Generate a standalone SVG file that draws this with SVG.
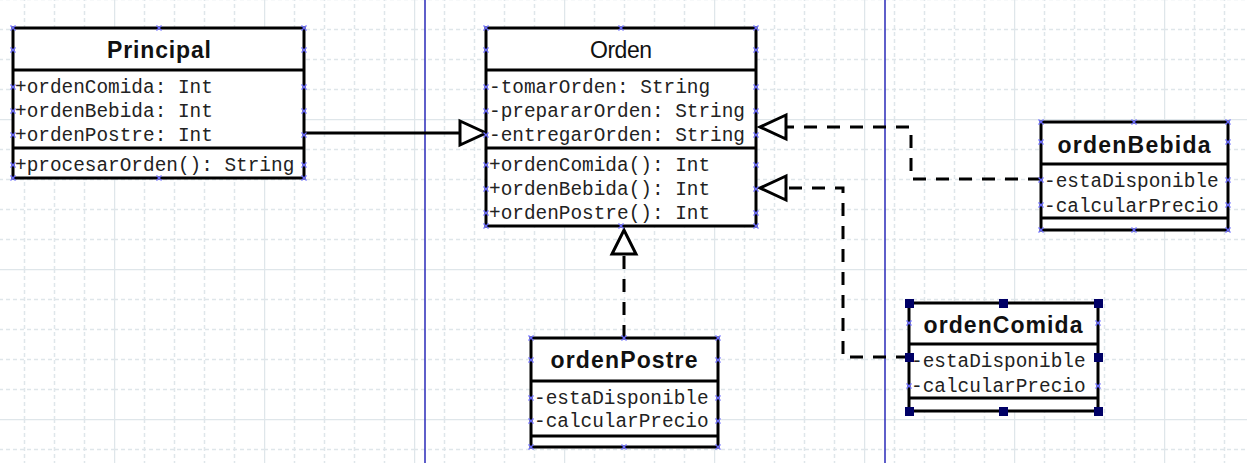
<svg xmlns="http://www.w3.org/2000/svg" width="1247" height="463" viewBox="0 0 1247 463">
<style>
.box{fill:#fff;stroke:#000;stroke-width:3}
.div{stroke:#000;stroke-width:3}
.t{font-family:"Liberation Sans",Arial,sans-serif;font-size:23px;fill:#111;text-anchor:middle}
.b{font-weight:bold}
.m{font-family:"Liberation Mono","Courier New",monospace;font-size:19.4px;fill:#222}
.con{fill:none;stroke:#000;stroke-width:3}
.dash{stroke-dasharray:13,10}
.tri{fill:#fff;stroke:#000;stroke-width:3;stroke-linejoin:miter}
.hd{fill:#000066}
.pg{stroke:#2a2ab8;stroke-width:1.5}
</style>
<defs>
<pattern id="grid" patternUnits="userSpaceOnUse" x="-36" y="-31" width="150" height="150">
<g stroke="#dfe6ea" stroke-width="1.5" fill="none">
<path d="M0.5,0V150M0,0.5H150"/>
<path stroke-dasharray="4,3" d="M30.5,0V150M60.5,0V150M90.5,0V150M120.5,0V150M0,30.5H150M0,60.5H150M0,90.5H150M0,120.5H150"/>
</g>
</pattern>
<path id="xm" d="M-2.5,-2.5L2.5,2.5M-2.5,2.5L2.5,-2.5" stroke="#6a6aff" stroke-width="1.2" fill="none"/>
</defs>
<rect width="1247" height="463" fill="#fff"/>
<rect width="1247" height="463" fill="url(#grid)"/>
<line class="pg" x1="425" y1="0" x2="425" y2="463"/>
<line class="pg" x1="885" y1="0" x2="885" y2="463"/>

<g id="connectors">
<path class="con" d="M305,133H460"/>
<polygon class="tri" points="460,121 486,133 460,145"/>
<path class="con dash" d="M1041,179H911V127H786"/>
<polygon class="tri" points="786,115 760,127 786,139"/>
<path class="con dash" d="M909,357H843V188H786"/>
<polygon class="tri" points="786,176 760,188 786,200"/>
<path class="con dash" d="M624,338V254"/>
<polygon class="tri" points="612,254 624,230 636,254"/>
</g>

<g id="Principal">
<rect class="box" x="13" y="28" width="291" height="150"/>
<line class="div" x1="13" y1="70" x2="304" y2="70"/>
<line class="div" x1="13" y1="148" x2="304" y2="148"/>
<text class="t b" x="159" y="58" textLength="104">Principal</text>
<text class="m" x="15" y="93">+ordenComida: Int</text>
<text class="m" x="15" y="117">+ordenBebida: Int</text>
<text class="m" x="15" y="141">+ordenPostre: Int</text>
<text class="m" x="15" y="171">+procesarOrden(): String</text>
<use href="#xm" x="13" y="28"/><use href="#xm" x="159" y="28"/><use href="#xm" x="304" y="28"/>
<use href="#xm" x="13" y="178"/><use href="#xm" x="159" y="178"/><use href="#xm" x="304" y="178"/>
<use href="#xm" x="13" y="50"/><use href="#xm" x="304" y="50"/>
<use href="#xm" x="13" y="87"/><use href="#xm" x="304" y="87"/>
<use href="#xm" x="13" y="111"/><use href="#xm" x="304" y="111"/>
<use href="#xm" x="13" y="135"/><use href="#xm" x="304" y="135"/>
<use href="#xm" x="13" y="165"/><use href="#xm" x="304" y="165"/>
</g>

<g id="Orden">
<rect class="box" x="486" y="28" width="270" height="198"/>
<line class="div" x1="486" y1="70" x2="756" y2="70"/>
<line class="div" x1="486" y1="148" x2="756" y2="148"/>
<text class="t" x="621" y="58" textLength="62">Orden</text>
<text class="m" x="489" y="93">-tomarOrden: String</text>
<text class="m" x="489" y="117">-prepararOrden: String</text>
<text class="m" x="489" y="141">-entregarOrden: String</text>
<text class="m" x="489" y="171">+ordenComida(): Int</text>
<text class="m" x="489" y="195">+ordenBebida(): Int</text>
<text class="m" x="489" y="219">+ordenPostre(): Int</text>
<use href="#xm" x="486" y="28"/><use href="#xm" x="621" y="28"/><use href="#xm" x="756" y="28"/>
<use href="#xm" x="486" y="226"/><use href="#xm" x="621" y="226"/><use href="#xm" x="756" y="226"/>
<use href="#xm" x="486" y="50"/><use href="#xm" x="756" y="50"/>
<use href="#xm" x="486" y="87"/><use href="#xm" x="756" y="87"/>
<use href="#xm" x="486" y="111"/><use href="#xm" x="756" y="111"/>
<use href="#xm" x="486" y="135"/><use href="#xm" x="756" y="135"/>
<use href="#xm" x="486" y="165"/><use href="#xm" x="756" y="165"/>
<use href="#xm" x="486" y="189"/><use href="#xm" x="756" y="189"/>
<use href="#xm" x="486" y="213"/><use href="#xm" x="756" y="213"/>
</g>

<g id="ordenBebida">
<rect class="box" x="1041" y="122" width="187" height="108"/>
<line class="div" x1="1041" y1="164" x2="1228" y2="164"/>
<line class="div" x1="1041" y1="218" x2="1228" y2="218"/>
<text class="t b" x="1134" y="153" textLength="153">ordenBebida</text>
<text class="m" x="1044" y="187">-estaDisponible</text>
<text class="m" x="1044" y="212">-calcularPrecio</text>
<use href="#xm" x="1041" y="122"/><use href="#xm" x="1134" y="122"/><use href="#xm" x="1228" y="122"/>
<use href="#xm" x="1041" y="230"/><use href="#xm" x="1134" y="230"/><use href="#xm" x="1228" y="230"/>
<use href="#xm" x="1041" y="142"/><use href="#xm" x="1228" y="142"/>
<use href="#xm" x="1041" y="180"/><use href="#xm" x="1228" y="180"/>
<use href="#xm" x="1041" y="205"/><use href="#xm" x="1228" y="205"/>
</g>

<g id="ordenComida">
<rect class="box" x="909" y="303" width="189" height="108"/>
<line class="div" x1="909" y1="344" x2="1098" y2="344"/>
<line class="div" x1="909" y1="398" x2="1098" y2="398"/>
<text class="t b" x="1003" y="333" textLength="159">ordenComida</text>
<text class="m" x="911" y="367">-estaDisponible</text>
<text class="m" x="911" y="392">-calcularPrecio</text>
<use href="#xm" x="909" y="323"/><use href="#xm" x="1098" y="323"/>
<use href="#xm" x="909" y="386"/><use href="#xm" x="1098" y="386"/>
<rect class="hd" x="905" y="299" width="9" height="9"/>
<rect class="hd" x="999" y="299" width="9" height="9"/>
<rect class="hd" x="1094" y="299" width="9" height="9"/>
<rect class="hd" x="905" y="353" width="9" height="9"/>
<rect class="hd" x="1094" y="353" width="9" height="9"/>
<rect class="hd" x="905" y="407" width="9" height="9"/>
<rect class="hd" x="999" y="407" width="9" height="9"/>
<rect class="hd" x="1094" y="407" width="9" height="9"/>
</g>

<g id="ordenPostre">
<rect class="box" x="531" y="338" width="187" height="109"/>
<line class="div" x1="531" y1="381" x2="718" y2="381"/>
<line class="div" x1="531" y1="436" x2="718" y2="436"/>
<text class="t b" x="624" y="368" textLength="147">ordenPostre</text>
<text class="m" x="534" y="404">-estaDisponible</text>
<text class="m" x="534" y="427">-calcularPrecio</text>
<use href="#xm" x="531" y="338"/><use href="#xm" x="624" y="338"/><use href="#xm" x="718" y="338"/>
<use href="#xm" x="531" y="447"/><use href="#xm" x="624" y="447"/><use href="#xm" x="718" y="447"/>
<use href="#xm" x="531" y="360"/><use href="#xm" x="718" y="360"/>
<use href="#xm" x="531" y="398"/><use href="#xm" x="718" y="398"/>
<use href="#xm" x="531" y="421"/><use href="#xm" x="718" y="421"/>
</g>
</svg>
